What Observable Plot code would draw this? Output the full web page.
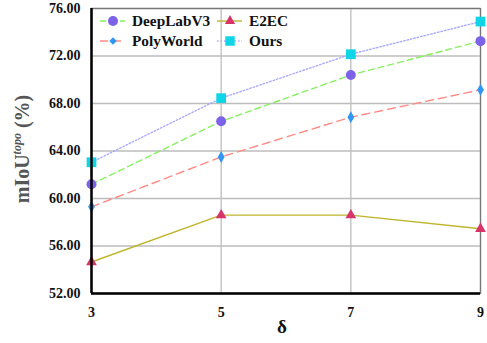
<!DOCTYPE html>
<html><head><meta charset="utf-8">
<script src="https://cdn.jsdelivr.net/npm/d3@7"></script>
<script src="https://cdn.jsdelivr.net/npm/@observablehq/plot@0.6"></script>
<style>
body{margin:0;background:#fff;}
</style></head>
<body><div id="wrap"></div>
<script>
const deltas = [3, 5, 7, 9];
const deeplab = [61.2, 66.5, 70.4, 73.25];
const e2ec = [54.65, 58.6, 58.6, 57.45];
const polyworld = [59.3, 63.5, 66.85, 69.15];
const ours = [63.05, 68.45, 72.15, 74.9];
const yTicks = [52, 56, 60, 64, 68, 72, 76];
const xTicks = [3, 5, 7, 9];

const series = [
  {name:"DeepLabV3", values:deeplab, line:"#86f060", dash:"6,4", mcolor:"#7b62e8", symbol:"circle", r:5},
  {name:"E2EC", values:e2ec, line:"#bfb52c", dash:null, mcolor:"#d8346a", symbol:"triangle", r:4},
  {name:"PolyWorld", values:polyworld, line:"#ff8a84", dash:"8,5", mcolor:"#3197f5", symbol:"diamond", r:3.6},
  {name:"Ours", values:ours, line:"#a9a9ff", dash:"1.5,2", mcolor:"#10d5e6", symbol:"square", r:5.5}
];

const marks = [
  Plot.gridY(yTicks, {stroke:"#bdbdbd", strokeOpacity:1, strokeWidth:1.3}),
  Plot.gridX(xTicks, {stroke:"#bdbdbd", strokeOpacity:1, strokeWidth:1.3}),
  Plot.frame({stroke:"#777", strokeWidth:1.3}),
];
for (const s of series) {
  const rows = deltas.map((d,i)=>({x:d, y:s.values[i]}));
  marks.push(Plot.line(rows, {x:"x", y:"y", stroke:s.line, strokeWidth:1.4, strokeDasharray:s.dash}));
}
for (const s of series) {
  const rows = deltas.map((d,i)=>({x:d, y:s.values[i]}));
  marks.push(Plot.dot(rows, {x:"x", y:"y", fill:s.mcolor, stroke:"none", symbol:s.symbol, r:s.r}));
}
marks.push(Plot.ruleX([3], {stroke:"#000", strokeWidth:2.5}));
marks.push(Plot.ruleY([52], {stroke:"#000", strokeWidth:2.5}));
marks.push(Plot.axisY(yTicks, {tickSize:0, tickPadding:11, tickFormat:d3.format(".2f"), label:null, fontSize:14, fontWeight:"bold", fill:"#111"}));
marks.push(Plot.axisX(xTicks, {tickSize:0, tickPadding:14, label:null, fontSize:14, fontWeight:"bold", fill:"#111"}));

const chart = Plot.plot({
  width:487, height:343,
  marginLeft:91, marginRight:7, marginTop:8, marginBottom:50,
  style:{fontFamily:"Liberation Serif, serif", background:"#fff", overflow:"visible"},
  x:{domain:[3,9]},
  y:{domain:[52,76]},
  marks
});
const svg = d3.select(chart);
svg.append("text").attr("x", 282).attr("y", 333).attr("text-anchor","middle")
  .attr("font-size",19).attr("font-weight","bold").attr("fill","#111").text("δ");
const yl = svg.append("text").attr("transform","translate(29,149) rotate(-90)")
  .attr("text-anchor","middle").attr("font-size",20).attr("font-weight","bold").attr("fill","#555");
yl.append("tspan").text("mIoU");
yl.append("tspan").attr("font-style","italic").attr("font-size",12).attr("dy",-8).text("topo");
yl.append("tspan").attr("dy",8).text(" (%)");

// legend
const symMap = {circle:d3.symbolCircle, triangle:d3.symbolTriangle, diamond:d3.symbolDiamond2, square:d3.symbolSquare};
const sizeMap = {circle:78, triangle:45, diamond:36, square:90};
const lg = svg.append("g").attr("font-size",15.3).attr("font-weight","bold").attr("fill","#111").attr("text-anchor","start");
const pos = [[100,21],[217,21],[100,41],[217,41]];
series.forEach((s,i)=>{
  const [x0, cy] = pos[i];
  lg.append("line").attr("x1",x0).attr("x2",x0+25).attr("y1",cy).attr("y2",cy)
    .attr("stroke",s.line).attr("stroke-width",1.4).attr("stroke-dasharray", s.dash);
  lg.append("path").attr("transform",`translate(${x0+13},${cy})`)
    .attr("d", d3.symbol(symMap[s.symbol], sizeMap[s.symbol])()).attr("fill",s.mcolor);
  lg.append("text").attr("x", x0+32).attr("y", cy+5).attr("text-anchor","start").text(s.name);
});
document.getElementById("wrap").appendChild(chart);
</script></body></html>
